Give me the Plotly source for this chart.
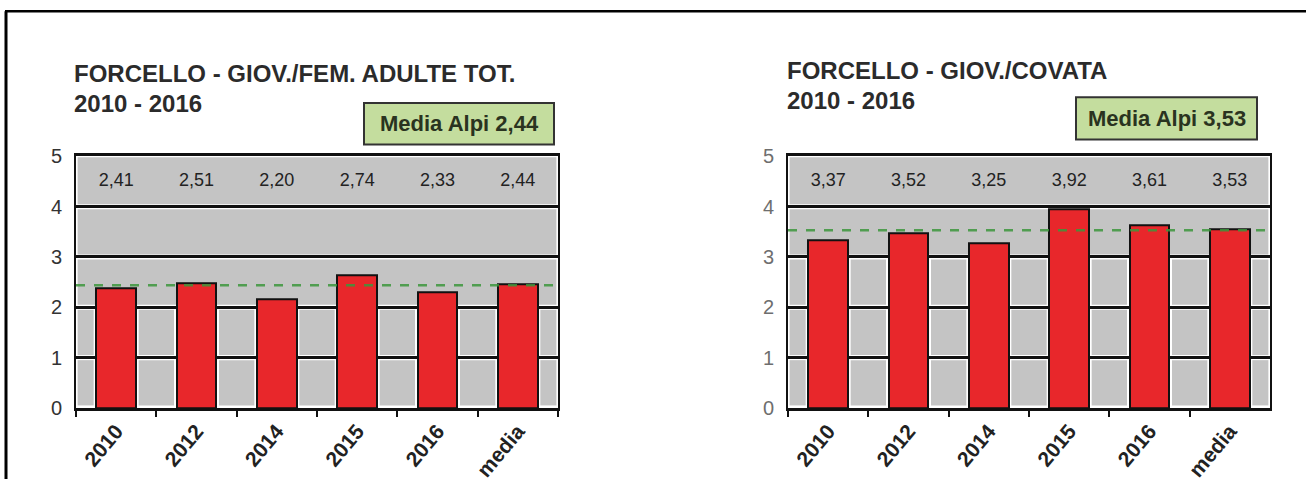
import plotly.graph_objects as go

W, H = 1306, 490

categories = ["2010", "2012", "2014", "2015", "2016", "media"]

left_title = ["FORCELLO - GIOV./FEM. ADULTE TOT.", "2010 - 2016"]
left_values = [2.38, 2.48, 2.15, 2.64, 2.30, 2.45]
left_labels = ["2,41", "2,51", "2,20", "2,74", "2,33", "2,44"]
left_mean = 2.44
left_mean_text = "Media Alpi 2,44"

right_title = ["FORCELLO - GIOV./COVATA", "2010 - 2016"]
right_values = [3.33, 3.47, 3.28, 3.95, 3.62, 3.55]
right_labels = ["3,37", "3,52", "3,25", "3,92", "3,61", "3,53"]
right_mean = 3.53
right_mean_text = "Media Alpi 3,53"

y_ticks = [0, 1, 2, 3, 4, 5]

FONT = "Liberation Sans, Arial, sans-serif"
GREY = "#c4c4c4"
RED = "#e8272b"
BAR_W = 0.49

def px_x(p):
    return p / W

def px_y(p):
    q = (p - 7.7) / 0.968
    return 1 - q / H

panels = [
    dict(values=left_values, labels=left_labels, mean=left_mean, mean_text=left_mean_text,
         title=left_title, xd=(76, 558), title_x=72, title_y=(71, 101),
         box=(364, 554, 101, 143), tickcol="#333333", suffix=""),
    dict(values=right_values, labels=right_labels, mean=right_mean, mean_text=right_mean_text,
         title=right_title, xd=(788, 1270), title_x=785, title_y=(68, 98),
         box=(1076, 1257, 95, 138), tickcol="#6e6e6e", suffix="2"),
]

y_dom = (px_y(410), px_y(155))

fig = go.Figure()
shapes = []
annotations = []
layout = {}

for k, p in enumerate(panels):
    xa = "x" + p["suffix"]
    ya = "y" + p["suffix"]
    n = len(categories)
    fig.add_trace(go.Bar(
        x=categories, y=p["values"], width=BAR_W,
        marker=dict(color=RED, line=dict(color="#111111", width=2)),
        xaxis=xa, yaxis=ya, showlegend=False, hoverinfo="x+y",
    ))
    fig.add_trace(go.Scatter(
        x=categories, y=[4.5] * n, mode="text", text=p["labels"],
        textfont=dict(family=FONT, size=18, color="#222222"),
        xaxis=xa, yaxis=ya, showlegend=False, hoverinfo="skip",
    ))
    # background cells / bands
    low_rows = int(min(p["values"]))
    for r in range(0, 5):
        y0, y1 = r + 0.05, r + 1 - 0.05
        if r < low_rows:
            gaps = [(-0.5 + 0.02, -BAR_W / 2 - 0.035)]
            for i in range(n - 1):
                gaps.append((i + BAR_W / 2 + 0.035, i + 1 - BAR_W / 2 - 0.035))
            gaps.append((n - 1 + BAR_W / 2 + 0.035, n - 0.5 - 0.02))
            for (x0, x1) in gaps:
                shapes.append(dict(type="rect", xref=xa, yref=ya, x0=x0, x1=x1, y0=y0, y1=y1,
                                   fillcolor=GREY, line=dict(width=0), layer="below"))
        else:
            shapes.append(dict(type="rect", xref=xa, yref=ya, x0=-0.5 + 0.02, x1=n - 0.5 - 0.02,
                               y0=y0, y1=y1 if r < 4 else 5 - 0.02,
                               fillcolor=GREY, line=dict(width=0), layer="below"))
    # mean dashed line
    shapes.append(dict(type="line", xref=xa, yref=ya, x0=-0.5, x1=n - 0.5,
                       y0=p["mean"], y1=p["mean"],
                       line=dict(color="rgba(60,150,60,0.85)", width=2.5, dash="dash"), layer="above"))
    layout["xaxis" + p["suffix"]] = dict(
        domain=[px_x(p["xd"][0]), px_x(p["xd"][1])], anchor=ya,
        type="category", range=[-0.5, n - 0.5],
        showline=True, linecolor="#111111", linewidth=2.5, mirror=True,
        ticks="outside", tickson="boundaries", ticklen=6, tickwidth=2, tickcolor="#111111",
        tickangle=-50, tickfont=dict(family=FONT, size=21, color="#222222", weight="bold"),
        showgrid=False, zeroline=False, fixedrange=True,
    )
    layout["yaxis" + p["suffix"]] = dict(
        domain=list(y_dom), anchor=xa, range=[0, 5],
        tickvals=y_ticks, ticks="", showline=True, linecolor="#111111", linewidth=2, mirror=True,
        showgrid=True, gridcolor="#111111", gridwidth=3, zeroline=False,
        tickfont=dict(family=FONT, size=20, color=p["tickcol"]), ticklabelstandoff=8,
        fixedrange=True,
    )
    # titles
    for line, ty in zip(p["title"], p["title_y"]):
        annotations.append(dict(xref="paper", yref="paper", x=px_x(p["title_x"]), y=px_y(ty),
                                xanchor="left", yanchor="middle", showarrow=False, text=line,
                                font=dict(family=FONT, size=24, color="#2b2b2b", weight="bold")))
    bx0, bx1, by0, by1 = p["box"]
    shapes.append(dict(type="rect", xref="paper", yref="paper", x0=px_x(bx0), x1=px_x(bx1),
                       y0=px_y(by1), y1=px_y(by0), fillcolor="#c4dd9e",
                       line=dict(color="#333333", width=2)))
    annotations.append(dict(xref="paper", yref="paper", x=px_x((bx0 + bx1) / 2), y=px_y((by0 + by1) / 2),
                            xanchor="center", yanchor="middle", showarrow=False, text=p["mean_text"],
                            font=dict(family=FONT, size=22, color="#2a3320", weight="bold")))

# outer frame
shapes.append(dict(type="line", xref="paper", yref="paper", x0=px_x(6), x1=px_x(6), y0=px_y(8), y1=0,
                   line=dict(color="#000000", width=3)))
shapes.append(dict(type="line", xref="paper", yref="paper", x0=px_x(5), x1=1, y0=px_y(8), y1=px_y(8),
                   line=dict(color="#000000", width=2.5)))

fig.update_layout(
    width=W, height=H, margin=dict(l=0, r=0, t=0, b=0),
    paper_bgcolor="white", plot_bgcolor="white",
    shapes=shapes, annotations=annotations, showlegend=False, bargap=0,
    **layout,
)

fig.write_html("out.html")
